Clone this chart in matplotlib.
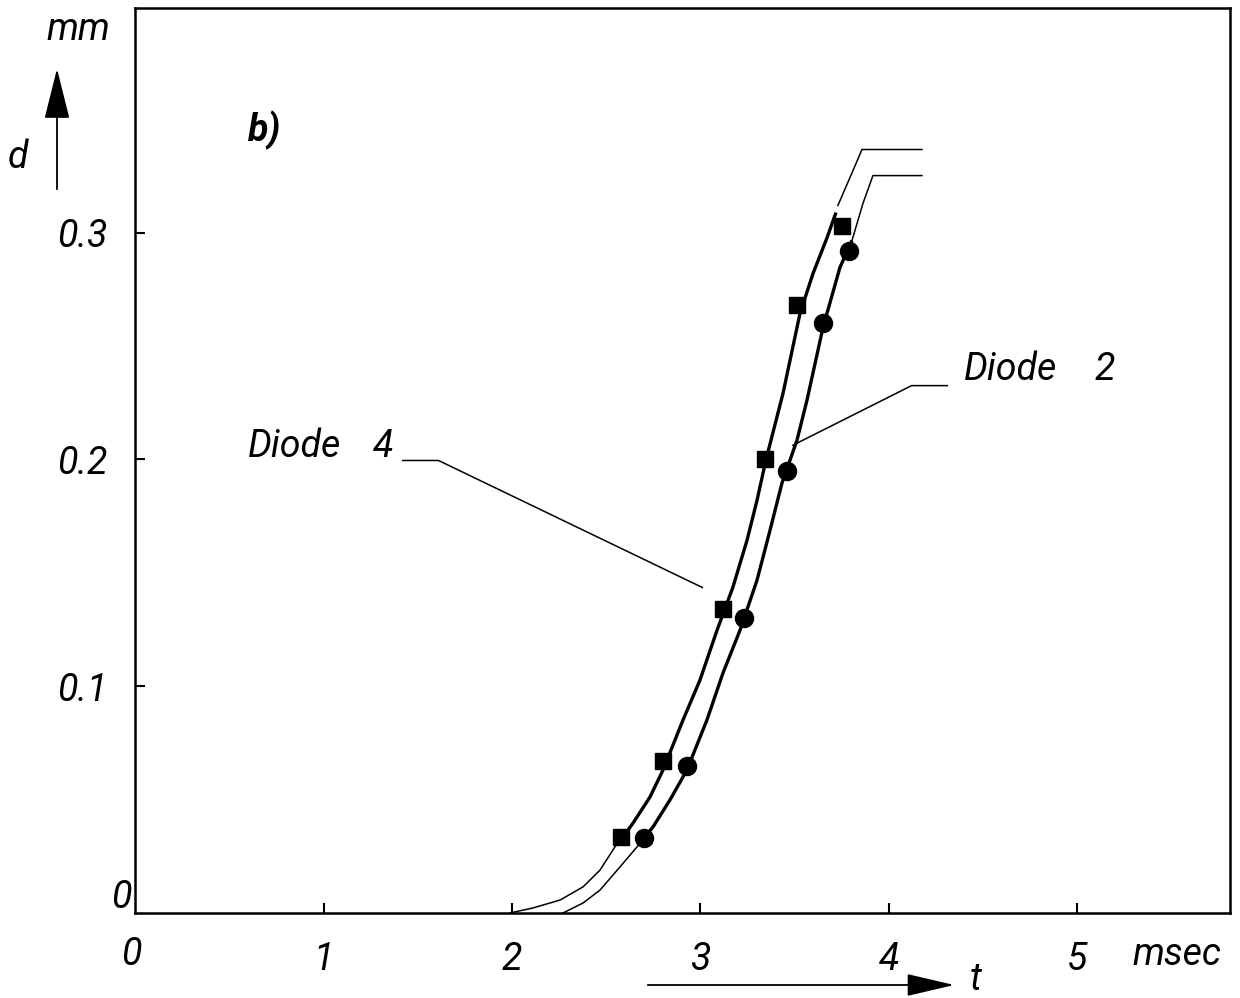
import matplotlib
matplotlib.use("Agg")
import matplotlib.pyplot as plt
from matplotlib.patches import FancyArrowPatch

# curves (t in msec, d in mm)
d4_t = [1.989, 2.111, 2.255, 2.377, 2.467, 2.546, 2.584, 2.642, 2.732, 2.801, 2.907, 2.997,
        3.088, 3.172, 3.247, 3.300, 3.347, 3.438, 3.528, 3.597, 3.672, 3.719,
        3.729, 3.793, 3.857, 4.175]
d4_d = [0.000, 0.0022, 0.0057, 0.0115, 0.0189, 0.0291, 0.0330, 0.0396, 0.0511, 0.0630, 0.0850, 0.1026,
        0.1247, 0.1436, 0.1643, 0.1819, 0.1996, 0.2291, 0.2643, 0.2819, 0.2978, 0.3088,
        0.3119, 0.3242, 0.3366, 0.3366]
d2_t = [2.271, 2.377, 2.467, 2.573, 2.663, 2.695, 2.748, 2.838, 2.928, 3.034, 3.119, 3.210,
        3.300, 3.369, 3.432, 3.512, 3.565, 3.650, 3.740, 3.804, 3.862, 3.915, 4.175]
d2_d = [0.000, 0.0044, 0.0101, 0.0203, 0.0291, 0.0326, 0.0379, 0.0498, 0.0630, 0.0850, 0.1057, 0.1247,
        0.1467, 0.1687, 0.1894, 0.2084, 0.2260, 0.2581, 0.2846, 0.2965, 0.3128, 0.3251, 0.3251]

# measured points
sq_t = [2.58, 2.80, 3.12, 3.34, 3.51, 3.75]
sq_d = [0.0335, 0.067, 0.134, 0.200, 0.268, 0.303]
ci_t = [2.70, 2.93, 3.23, 3.46, 3.65, 3.79]
ci_d = [0.033, 0.065, 0.130, 0.195, 0.260, 0.292]

xticks = [1, 2, 3, 4, 5]
yticks = [0.1, 0.2, 0.3]
ytick_labels = ["0.1", "0.2", "0.3"]

fam = ["Roboto", "DejaVu Sans"]
fs = 27
k = "black"

fig = plt.figure(figsize=(12.4, 9.98), dpi=100)
ax = fig.add_axes([0.1089, 0.0852, 0.992 - 0.1089, 0.992 - 0.0852])
ax.set_xlim(0, 5.81)
ax.set_ylim(0, 0.399)

# Diode 4 curve: thin / thick / thin (small break at top)
ax.plot(d4_t[:7], d4_d[:7], color=k, lw=1.1)
ax.plot(d4_t[6:22], d4_d[6:22], color=k, lw=2.4, solid_capstyle="butt")
ax.plot(d4_t[22:], d4_d[22:], color=k, lw=1.1)
# Diode 2 curve
ax.plot(d2_t[:6], d2_d[:6], color=k, lw=1.1)
ax.plot(d2_t[5:20], d2_d[5:20], color=k, lw=2.4, solid_capstyle="butt")
ax.plot(d2_t[19:], d2_d[19:], color=k, lw=1.1)

ax.plot(sq_t, sq_d, "s", color=k, ms=11.5, zorder=5)
ax.plot(ci_t, ci_d, "o", color=k, ms=13, zorder=5)

for s in ax.spines.values():
    s.set_linewidth(1.8)
ax.tick_params(direction="in", length=7, width=1.5, labelsize=fs,
               top=False, right=False)
ax.tick_params(axis="y", pad=20)
ax.tick_params(axis="x", pad=20)
ax.set_xticks(xticks)
ax.set_xticklabels([str(v) for v in xticks], family=fam, style="italic")
ax.set_yticks(yticks)
ax.set_yticklabels(ytick_labels, family=fam, style="italic")

tk = dict(family=fam, style="italic", fontsize=fs, clip_on=False)
ax.text(-0.02, -0.0185, "0", ha="center", va="center", **tk)
ax.text(-0.02, 0.007, "0", ha="right", va="center", **tk)
ax.text(5.29, -0.0185, "msec", ha="left", va="center", **tk)

# axis arrows and names
fig.add_artist(FancyArrowPatch(
    (57 / 1240, 1 - 192 / 998), (57 / 1240, 1 - 66 / 998),
    transform=fig.transFigure, arrowstyle="-|>,head_length=1.6,head_width=0.4",
    mutation_scale=20, color=k, lw=1.3))
fig.add_artist(FancyArrowPatch(
    (645 / 1240, 1 - 985 / 998), (957 / 1240, 1 - 985 / 998),
    transform=fig.transFigure, arrowstyle="-|>,head_length=1.5,head_width=0.35",
    mutation_scale=20, color=k, lw=1.3))
fig.text(78 / 1240, 1 - 30 / 998, "mm", ha="center", va="center", **tk)
fig.text(18 / 1240, 1 - 158 / 998, "d", ha="center", va="center", **tk)
fig.text(976 / 1240, 1 - 980 / 998, "t", ha="center", va="center", **tk)

ax.text(0.60, 0.345, "b)", ha="left", va="center", family=fam, style="italic",
        fontweight="bold", fontsize=fs)

# leader labels
ax.text(0.60, 0.2055, "Diode", ha="left", va="center", **tk)
ax.text(1.316, 0.2055, "4", ha="center", va="center", **tk)
ax.plot([1.42, 1.61, 3.01], [0.1995, 0.1995, 0.1435], color=k, lw=1.1)
ax.text(4.40, 0.2395, "Diode", ha="left", va="center", **tk)
ax.text(5.146, 0.2395, "2", ha="center", va="center", **tk)
ax.plot([4.31, 4.12, 3.49], [0.2325, 0.2325, 0.2062], color=k, lw=1.1)

fig.savefig("out.png", dpi=100)
